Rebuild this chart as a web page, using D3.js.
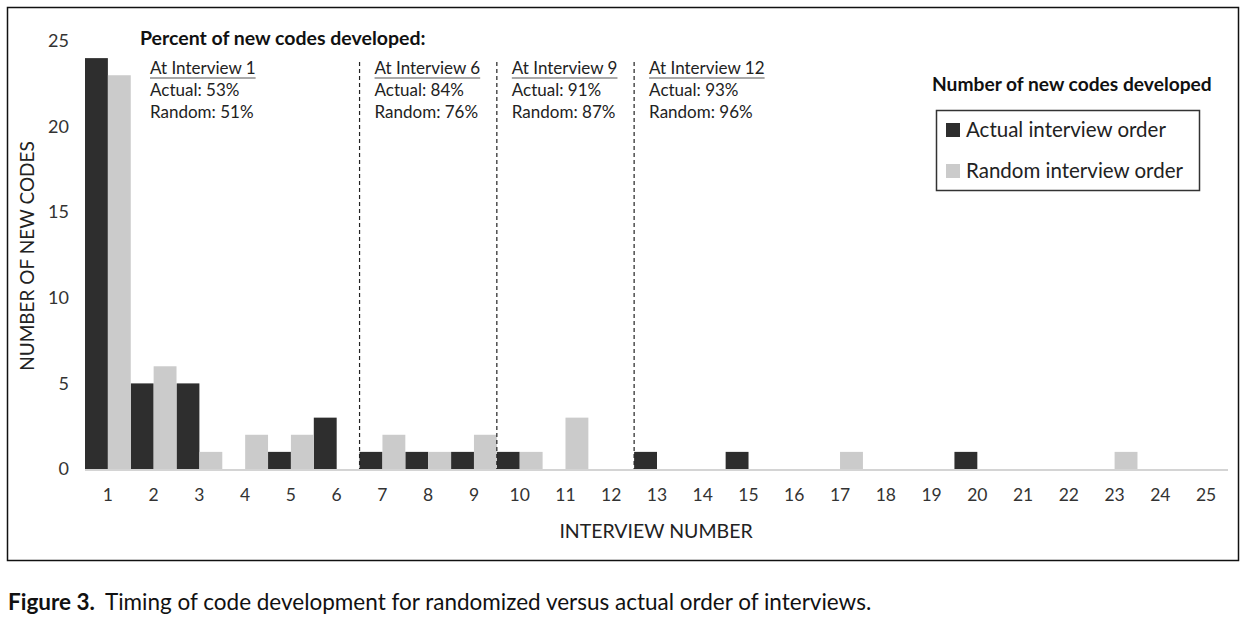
<!DOCTYPE html>
<html><head><meta charset="utf-8">
<script src="https://cdn.jsdelivr.net/npm/d3@7"></script>
<style>
body{margin:0;background:#fff;}
svg{display:block;}
text{font-family:Lato, "Open Sans", sans-serif;}
</style></head>
<body>
<svg id="c" width="1249" height="619"></svg>
<script>
const interviews = d3.range(1, 26).map(String);
const actual = [24,5,5,0,1,3,1,1,1,1,0,0,1,0,1,0,0,0,0,1,0,0,0,0,0];
const random = [23,6,1,2,2,0,2,1,2,1,3,0,0,0,0,0,1,0,0,0,0,0,1,0,0];
const yTicks = [0,5,10,15,20,25];
const seriesNames = ["Actual interview order","Random interview order"];
const seriesColors = ["#2e2e2e","#cbcbcb"];
const markers = [
  {after:"6", head:"At Interview 6", a:"Actual: 84%", r:"Random: 76%"},
  {after:"9", head:"At Interview 9", a:"Actual: 91%", r:"Random: 87%"},
  {after:"12", head:"At Interview 12", a:"Actual: 93%", r:"Random: 96%"}
];
const firstNote = {head:"At Interview 1", a:"Actual: 53%", r:"Random: 51%"};

const svg = d3.select("#c");
// frame
svg.append("rect").attr("x",7.5).attr("y",7.5).attr("width",1231).attr("height",553)
  .attr("fill","none").attr("stroke","#111").attr("stroke-width",1.5);

const x = d3.scaleBand().domain(interviews).range([85,1229]).padding(0);
const y = d3.scaleLinear().domain([0,25]).range([469,41]);
const xs = d3.scaleBand().domain([0,1]).range([0,x.bandwidth()]);

// baseline
svg.append("line").attr("x1",85).attr("x2",1228).attr("y1",y(0)+1).attr("y2",y(0)+1)
  .attr("stroke","#d4d4d4").attr("stroke-width",2);

const data = [actual, random];
data.forEach((vals,si)=>{
  svg.append("g").selectAll("rect").data(vals).join("rect")
    .attr("x",(d,i)=>x(interviews[i])+xs(si))
    .attr("width",xs.bandwidth())
    .attr("y",d=>y(d))
    .attr("height",d=>y(0)-y(d))
    .attr("fill",seriesColors[si]);
});

// axes
const xAxis = svg.append("g").attr("transform",`translate(0,${y(0)})`)
  .call(d3.axisBottom(x).tickSize(0).tickPadding(20));
xAxis.select(".domain").remove();
xAxis.selectAll("text").attr("font-size",17.5).attr("fill","#333").style("font-family","Lato, sans-serif");

const yAxis = svg.append("g").attr("transform","translate(69,0)")
  .call(d3.axisLeft(y).tickValues(yTicks).tickSize(0).tickPadding(0));
yAxis.select(".domain").remove();
yAxis.selectAll("text").attr("font-size",18).attr("fill","#333").style("font-family","Lato, sans-serif");

svg.append("text").attr("transform","translate(34,256) rotate(-90)")
  .attr("text-anchor","middle").attr("font-size",19).attr("fill","#222").text("NUMBER OF NEW CODES");
svg.append("text").attr("x",656).attr("y",538).attr("text-anchor","middle")
  .attr("font-size",19.5).attr("fill","#222").text("INTERVIEW NUMBER");

// dashed lines
markers.forEach(m=>{
  const lx = x(m.after)+x.bandwidth();
  svg.append("line").attr("x1",lx).attr("x2",lx).attr("y1",62).attr("y2",y(0))
    .attr("stroke","#222").attr("stroke-width",1.2).attr("stroke-dasharray","4,3");
});

// annotations
svg.append("text").attr("x",140).attr("y",45).attr("font-size",19.5).attr("font-weight","bold")
  .attr("fill","#111").text("Percent of new codes developed:");
function note(n, nx){
  const g = svg.append("g").attr("fill","#222");
  const t = g.append("text").attr("x",nx).attr("y",74).attr("font-size",17).text(n.head);
  const w = t.node().getComputedTextLength();
  g.append("line").attr("x1",nx).attr("x2",nx+w).attr("y1",78).attr("y2",78)
    .attr("stroke","#555").attr("stroke-width",1.2);
  g.append("text").attr("x",nx).attr("y",96).attr("font-size",17).text(n.a);
  g.append("text").attr("x",nx).attr("y",118).attr("font-size",17).text(n.r);
}
note(firstNote,150);
markers.forEach(m=>note(m, x(m.after)+x.bandwidth()+15));

// legend
svg.append("text").attr("x",932).attr("y",91).attr("font-size",19.2).attr("font-weight","bold")
  .attr("fill","#111").text("Number of new codes developed");
svg.append("rect").attr("x",936.5).attr("y",110.5).attr("width",263).attr("height",80)
  .attr("fill","#fff").attr("stroke","#333").attr("stroke-width",1.5);
seriesNames.forEach((nm,i)=>{
  const ly = 130 + i*41;
  svg.append("rect").attr("x",946).attr("y",ly-7).attr("width",14).attr("height",14).attr("fill",seriesColors[i]);
  svg.append("text").attr("x",966).attr("y",ly+7).attr("font-size",20.5).attr("fill","#222").text(nm);
});

// caption
const cap = svg.append("text").attr("x",8).attr("y",610).attr("font-size",22.5).attr("fill","#111");
cap.append("tspan").attr("font-weight","bold").text("Figure 3.");
cap.append("tspan").attr("dx",10).text("Timing of code development for randomized versus actual order of interviews.");
</script>
</body></html>
